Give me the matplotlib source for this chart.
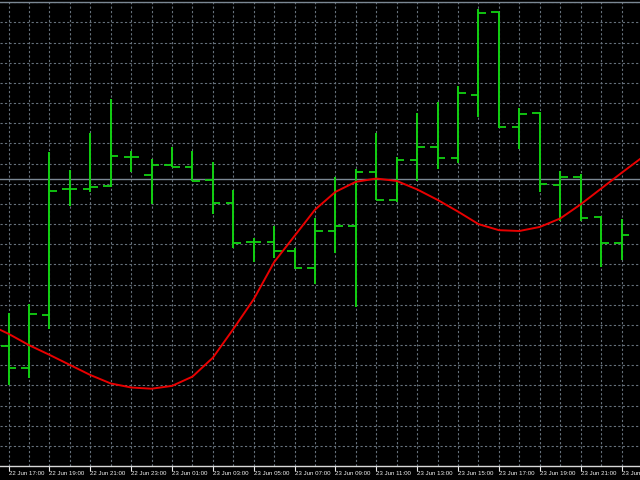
import numpy as np
import matplotlib
matplotlib.use('Agg')
import matplotlib.pyplot as plt
import matplotlib.transforms as mtrans
from matplotlib import font_manager

# hourly bars, 22 Jun 17:00 .. 23 Jun 23:00
bars = np.arange(31)
opens = [1.10248, 1.10193, 1.10325, 1.10637, 1.10637, 1.10645, 1.10716, 1.10672,
         1.10697, 1.10692, 1.10659, 1.10602, 1.10506, 1.10506, 1.10483, 1.10442,
         1.10533, 1.10546, 1.10679, 1.10611, 1.10710, 1.10742, 1.10715, 1.10871,
         1.11076, 1.10791, 1.10826, 1.10647, 1.10667, 1.10568, 1.10502]
highs = [1.10330, 1.10351, 1.10728, 1.10684, 1.10775, 1.10859, 1.10731, 1.10711,
         1.10740, 1.10731, 1.10703, 1.10635, 1.10515, 1.10545, 1.10490, 1.10566,
         1.10667, 1.10687, 1.10775, 1.10717, 1.10825, 1.10853, 1.10892, 1.11083,
         1.11077, 1.10839, 1.10829, 1.10682, 1.10674, 1.10571, 1.10563]
lows = [1.10151, 1.10168, 1.10289, 1.10596, 1.10630, 1.10643, 1.10678, 1.10599,
        1.10691, 1.10657, 1.10574, 1.10492, 1.10455, 1.10465, 1.10438, 1.10401,
        1.10478, 1.10345, 1.10610, 1.10606, 1.10656, 1.10687, 1.10701, 1.10816,
        1.10788, 1.10736, 1.10630, 1.10558, 1.10558, 1.10444, 1.10462]
closes = [1.10193, 1.10327, 1.10633, 1.10637, 1.10643, 1.10719, 1.10717, 1.10697,
          1.10692, 1.10658, 1.10602, 1.10502, 1.10506, 1.10483, 1.10442, 1.10534,
          1.10545, 1.10680, 1.10611, 1.10710, 1.10742, 1.10715, 1.10874, 1.11074,
          1.10791, 1.10824, 1.10649, 1.10667, 1.10566, 1.10504, 1.10522]

# red indicator line (one bar before and after the visible bars)
ma_bars = np.arange(-1, 32)
ma = [1.10302, 1.10278, 1.10250, 1.10226, 1.10201, 1.10176, 1.10155, 1.10145,
      1.10142, 1.10149, 1.10172, 1.10219, 1.10290, 1.10364, 1.10456, 1.10521,
      1.10586, 1.10630, 1.10655, 1.10663, 1.10657, 1.10636, 1.10610, 1.10581,
      1.10550, 1.10535, 1.10533, 1.10543, 1.10564, 1.10599, 1.10638, 1.10677,
      1.10715]

bid = 1.10663
grid_prices = [1.1000 + 0.0005 * k for k in range(23)]

label_bars = bars[::2]
labels = ['22 Jun 17:00', '22 Jun 19:00', '22 Jun 21:00', '22 Jun 23:00',
          '23 Jun 01:00', '23 Jun 03:00', '23 Jun 05:00', '23 Jun 07:00',
          '23 Jun 09:00', '23 Jun 11:00', '23 Jun 13:00', '23 Jun 15:00',
          '23 Jun 17:00', '23 Jun 19:00', '23 Jun 21:00', '23 Jun 23:00']

names = {f.name for f in font_manager.fontManager.ttflist}
font = 'Liberation Sans Narrow' if 'Liberation Sans Narrow' in names else 'Liberation Sans'
fsize = 4.8 if font == 'Liberation Sans Narrow' else 4.4

fig = plt.figure(figsize=(6.4, 4.8), dpi=100, facecolor='black')
ax = fig.add_axes([0, 14 / 480, 1, 464.5 / 480])
ax.set_facecolor('black')

green = '#12d012'
w = 0.37
ax.vlines(bars, lows, highs, color=green, lw=1.4, capstyle='butt', zorder=3)
ax.hlines(opens, bars - w, bars, color=green, lw=1.3, capstyle='butt', zorder=3)
ax.hlines(closes, bars, bars + w, color=green, lw=1.3, capstyle='butt', zorder=3)

ax.plot(ma_bars, ma, color='#e80000', lw=1.4, zorder=4)
ax.axhline(bid, color='#7b8894', lw=1.0, zorder=2)

ax.set_xlim(-0.421, 30.905)
ax.set_ylim(1.099504, 1.111019)

ax.set_yticks(grid_prices)
ax.set_xticks(bars, minor=True)
ax.set_xticks(label_bars)
ax.set_xticklabels(labels, ha='left', fontsize=fsize, color='#f0f0f0', family=font)
offset = mtrans.ScaledTranslation(0.5 / 100, 0, fig.dpi_scale_trans)
for t in ax.get_xticklabels():
    t.set_transform(t.get_transform() + offset)

gkw = dict(color='#66717c', linestyle=(0, (2, 2)), lw=0.8)
ax.grid(axis='y', **gkw)
ax.grid(axis='x', which='both', **gkw)
ax.set_axisbelow(True)

ax.tick_params(axis='y', left=False, labelleft=False)
ax.tick_params(axis='x', which='major', direction='out', length=3.3, width=0.8,
               color='#e8e8e8', pad=0.5)
ax.tick_params(axis='x', which='minor', length=0)

for s in ('left', 'right'):
    ax.spines[s].set_visible(False)
ax.spines['bottom'].set_color('#d8d8d8')
ax.spines['bottom'].set_linewidth(1.0)
ax.spines['top'].set_color('#7b8894')
ax.spines['top'].set_linewidth(1.0)

plt.savefig('out.png', dpi=100, facecolor='black')
